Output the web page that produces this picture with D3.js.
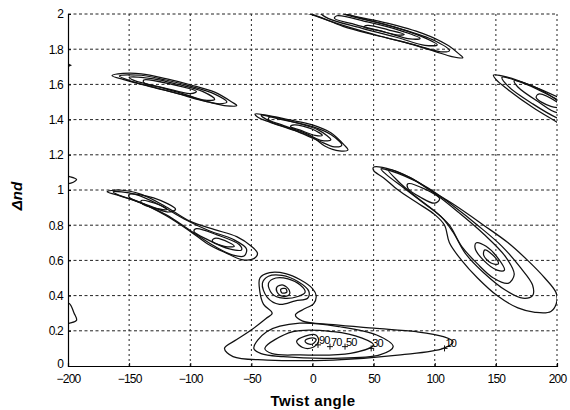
<!DOCTYPE html>
<html><head><meta charset="utf-8">
<script src="https://cdn.jsdelivr.net/npm/d3@7"></script>
<style>body{margin:0;background:#fff}text{font-family:"Liberation Sans",Arial,sans-serif}</style>
</head><body>
<svg id="c" width="570" height="410"></svg>
<script>
const xTicks = [-200,-150,-100,-50,0,50,100,150,200];
const yTicks = [0,0.2,0.4,0.6,0.8,1,1.2,1.4,1.6,1.8,2];

// contour loops, [twist angle, Δnd]
const upperLeft = [
 [[-164,1.650],[-155,1.662],[-140,1.660],[-120,1.633],[-100,1.598],[-80,1.556],[-66,1.500],[-62,1.480],[-70,1.478],[-85,1.500],[-100,1.530],[-120,1.566],[-140,1.600],[-155,1.628]],
 [[-158,1.648],[-140,1.652],[-120,1.625],[-100,1.590],[-80,1.545],[-70,1.500],[-76,1.490],[-90,1.508],[-110,1.547],[-130,1.585],[-150,1.622]],
 [[-150,1.640],[-130,1.632],[-110,1.600],[-90,1.560],[-80,1.515],[-88,1.510],[-105,1.545],[-125,1.585],[-145,1.620]],
 [[-138,1.625],[-115,1.600],[-95,1.560],[-100,1.548],[-120,1.578],[-138,1.610]]
];
const topCenter = [
 [[-30,2.10],[0,2.06],[30,1.995],[60,1.950],[90,1.890],[110,1.825],[120,1.772],[123,1.752],[114,1.758],[100,1.788],[75,1.840],[50,1.882],[25,1.930],[5,1.985],[-20,2.05]],
 [[-20,2.09],[10,2.035],[40,1.975],[70,1.92],[100,1.848],[112,1.792],[105,1.785],[85,1.822],[55,1.875],[25,1.935],[0,1.995],[-25,2.06]],
 [[0,2.06],[30,1.99],[60,1.94],[90,1.87],[102,1.825],[92,1.822],[70,1.865],[40,1.92],[10,1.985]],
 [[20,1.99],[45,1.955],[70,1.91],[88,1.862],[80,1.858],[60,1.895],[35,1.94],[18,1.975]],
 [[45,1.935],[62,1.91],[75,1.885],[70,1.88],[55,1.905],[42,1.925]]
];
const middle = [
 [[-47,1.432],[-38,1.425],[-20,1.40],[0,1.370],[15,1.325],[26,1.255],[29,1.228],[22,1.222],[10,1.25],[0,1.30],[-20,1.35],[-35,1.385],[-45,1.415]],
 [[-42,1.425],[-25,1.40],[0,1.36],[15,1.315],[24,1.255],[18,1.245],[5,1.28],[-15,1.34],[-35,1.39]],
 [[-35,1.415],[-15,1.385],[5,1.34],[15,1.285],[8,1.28],[-5,1.32],[-25,1.37],[-36,1.40]],
 [[-15,1.37],[0,1.345],[8,1.31],[2,1.31],[-10,1.34],[-18,1.36]]
];
const rightTop = [
 [[148,1.653],[160,1.640],[180,1.590],[200,1.530],[220,1.46],[230,1.38],[220,1.30],[200,1.385],[180,1.47],[160,1.57],[150,1.628]],
 [[155,1.64],[175,1.60],[200,1.515],[220,1.44],[215,1.38],[200,1.41],[180,1.49],[160,1.59]],
 [[165,1.62],[185,1.575],[200,1.51],[210,1.46],[200,1.44],[185,1.50],[168,1.585]],
 [[185,1.545],[200,1.50],[205,1.47],[195,1.475],[183,1.525]]
];
const leftMid = [
 [[-168,0.99],[-158,1.0],[-140,0.975],[-120,0.905],[-100,0.822],[-80,0.775],[-62,0.735],[-50,0.68],[-45,0.64],[-48,0.61],[-58,0.605],[-70,0.64],[-85,0.69],[-100,0.765],[-120,0.855],[-140,0.925],[-160,0.972]],
 [[-163,0.99],[-145,0.975],[-125,0.915],[-105,0.835],[-85,0.77],[-65,0.72],[-54,0.665],[-56,0.625],[-65,0.63],[-80,0.68],[-100,0.77],[-120,0.86],[-145,0.94],[-160,0.975]],
 [[-150,0.975],[-130,0.955],[-112,0.89],[-118,0.875],[-135,0.915],[-150,0.96]],
 [[-140,0.94],[-125,0.915],[-119,0.89],[-128,0.895],[-140,0.925]],
 [[-95,0.78],[-78,0.745],[-60,0.69],[-58,0.66],[-68,0.665],[-85,0.715],[-97,0.765]],
 [[-80,0.725],[-68,0.70],[-64,0.68],[-72,0.68],[-82,0.71]]
];
const rightBig = [
 [[50,1.13],[65,1.115],[80,1.07],[96,1.0],[115,0.92],[140,0.80],[160,0.70],[176,0.60],[190,0.50],[199,0.42],[200,0.37],[195,0.31],[182,0.305],[168,0.33],[151,0.40],[135,0.50],[122,0.60],[112,0.70],[108,0.80],[100,0.86],[85,0.93],[70,1.00],[58,1.07],[50,1.11]],
 [[56,1.12],[75,1.08],[95,1.01],[115,0.91],[135,0.80],[155,0.68],[170,0.56],[180,0.46],[180,0.40],[172,0.385],[158,0.43],[140,0.53],[125,0.64],[115,0.76],[105,0.85],[90,0.93],[75,1.01],[60,1.09]],
 [[62,1.115],[80,1.07],[100,0.98],[120,0.87],[140,0.75],[158,0.62],[165,0.52],[160,0.47],[148,0.50],[135,0.58],[122,0.68],[112,0.80],[100,0.88],[85,0.96],[70,1.05]],
 [[78,1.035],[92,1.005],[104,0.95],[100,0.925],[88,0.96],[78,1.01]],
 [[134,0.70],[142,0.68],[152,0.61],[157,0.545],[151,0.545],[140,0.60],[133,0.67]],
 [[141,0.66],[149,0.62],[152,0.58],[146,0.585],[140,0.63]]
];
const bottom = [
 [[-72,0.10],[-62,0.15],[-51,0.20],[-38,0.27],[-33,0.30],[-40,0.35],[-43,0.42],[-43,0.50],[-35,0.53],[-22,0.525],[-10,0.49],[0,0.44],[3,0.40],[1,0.355],[-8,0.32],[-14,0.29],[-8,0.255],[17,0.235],[50,0.215],[85,0.195],[107,0.167],[115,0.138],[107,0.10],[72,0.063],[17,0.034],[-37,0.034],[-65,0.053]],
 [[-41,0.47],[-36,0.51],[-25,0.515],[-12,0.48],[-3,0.425],[-4,0.385],[-14,0.37],[-27,0.35],[-37,0.39]],
 [[-36,0.47],[-30,0.50],[-20,0.495],[-10,0.46],[-6,0.42],[-12,0.395],[-24,0.385],[-33,0.41]],
 [[-29,0.45],[-24,0.46],[-19,0.43],[-19,0.405],[-24,0.395],[-29,0.42]],
 [[-26,0.435],[-22,0.44],[-21,0.42],[-25,0.415]],
 [[-48,0.10],[-37.5,0.195],[-10.5,0.243],[22.5,0.223],[52.5,0.176],[66,0.11],[55,0.063],[17,0.044],[-24,0.053],[-42,0.07]],
 [[-39,0.10],[-16,0.195],[17,0.195],[40,0.16],[50,0.12],[31,0.072],[-10,0.063],[-33,0.07]],
 [[-13,0.14],[-6,0.17],[3,0.175],[5,0.14],[0,0.105],[-8,0.105]],
 [[-6,0.145],[0,0.16],[3,0.15],[0,0.125],[-5,0.13]]
];
const leftEdge = [
 [[-205,1.08],[-198,1.075],[-193,1.06],[-197,1.04],[-205,1.04]],
 [[-205,0.36],[-199,0.355],[-195,0.30],[-193,0.26],[-198,0.245],[-205,0.24]]
];
const markAngles = [108, 48, 26.6, 14.3, 4.5];
const markValues = [0.10, 0.10, 0.11, 0.11, 0.12];
const markLabels = ["10","30","50","70","90"];

const svg = d3.select("#c");
const x = d3.scaleLinear().domain([-200,200]).range([68,557]);
const y = d3.scaleLinear().domain([0,2]).range([366,14]);

svg.append("defs").append("clipPath").attr("id","clip").append("rect")
  .attr("x",68).attr("y",14).attr("width",489).attr("height",352);

// grid
const g = svg.append("g");
g.selectAll(".vg").data(xTicks.slice(1)).join("line")
  .attr("x1",d=>x(d)).attr("x2",d=>x(d)).attr("y1",y(0)).attr("y2",y(2))
  .attr("stroke","#222").attr("stroke-width",1).attr("stroke-dasharray","2,3");
g.selectAll(".hg").data(yTicks.slice(1)).join("line")
  .attr("x1",x(-200)).attr("x2",x(200)).attr("y1",d=>y(d)).attr("y2",d=>y(d))
  .attr("stroke","#222").attr("stroke-width",1).attr("stroke-dasharray","3,2.5");

// contours
const line = d3.line().x(d=>x(d[0])).y(d=>y(d[1])).curve(d3.curveCatmullRomClosed.alpha(0.5));
const all = [].concat(upperLeft, topCenter, middle, rightTop, leftMid, rightBig, bottom, leftEdge);
svg.append("g").attr("clip-path","url(#clip)")
  .selectAll("path").data(all).join("path")
  .attr("d",line).attr("fill","none").attr("stroke","#111").attr("stroke-width",1.25);

// small mark on left axis
svg.append("path").attr("d",`M${x(-200)},${y(1.72)}l4,2l-4,2z`).attr("fill","#111");

// markers
const mk = svg.append("g");
markAngles.forEach((a,i)=>{
  const px=x(a), py=y(markValues[i]);
  mk.append("path").attr("d",`M${px-3},${py}h6M${px},${py-3}v6`).attr("stroke","#111").attr("stroke-width",1);
  mk.append("text").attr("x",px+1).attr("y",py-1).attr("font-size",11).attr("letter-spacing",-0.8).text(markLabels[i]);
});

// axes
const xa = svg.append("g").attr("transform",`translate(0,${y(0)})`)
  .call(d3.axisBottom(x).tickValues(xTicks).tickSize(-3).tickPadding(8).tickFormat(d3.format("d")));
const ya = svg.append("g").attr("transform",`translate(${x(-200)},0)`)
  .call(d3.axisLeft(y).tickValues(yTicks).tickSize(-3).tickPadding(5).tickFormat(d=>Number.isInteger(d)?String(d):d3.format(".1f")(d)));
[xa,ya].forEach(a=>{
  a.select(".domain").attr("stroke","#000").attr("stroke-width",1.2);
  a.selectAll(".tick line").attr("stroke","#000");
  a.selectAll("text").attr("fill","#000").attr("font-size",12).attr("letter-spacing",-0.8).style("font-family","'Liberation Sans',Arial,sans-serif");
});
ya.selectAll(".tick").filter(d=>d===0).select("text").attr("dy","0.1em");

svg.append("text").attr("x",313).attr("y",406).attr("text-anchor","middle")
  .attr("font-size",15).attr("font-weight","bold").attr("letter-spacing",0.4).text("Twist angle");
svg.append("text").attr("transform","translate(22,196) rotate(-90)").attr("text-anchor","middle")
  .attr("font-size",15).attr("font-weight","bold").attr("font-style","italic").text("Δnd");
</script>
</body></html>
